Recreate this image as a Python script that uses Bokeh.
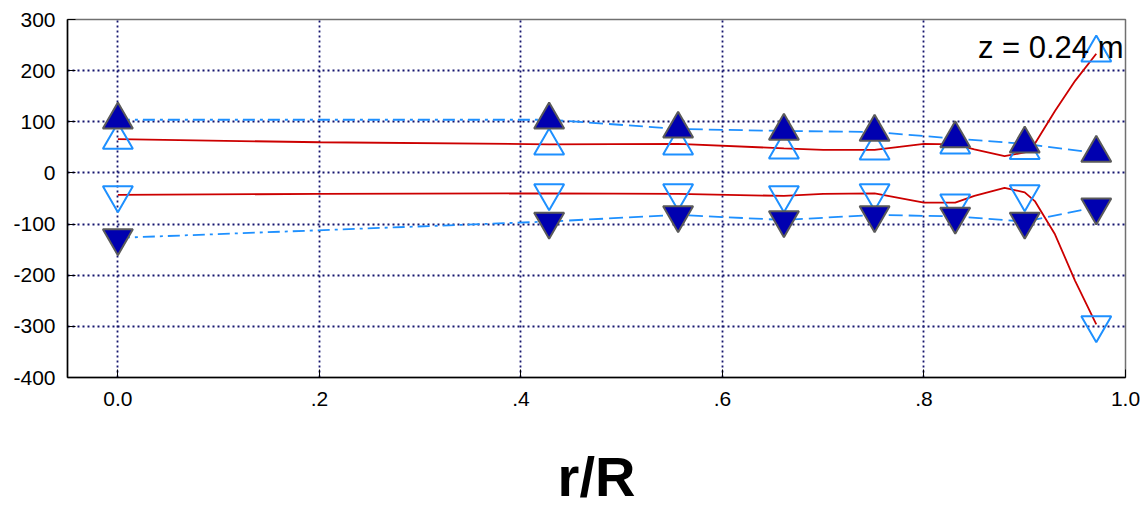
from bokeh.plotting import figure
from bokeh.models import Range1d, FixedTicker, Label
from bokeh.embed import file_html
from bokeh.resources import INLINE

# ---- data ----
r_marker = [0.0, 0.428, 0.556, 0.661, 0.751, 0.831, 0.900, 0.971]
up_filled = [104, 104, 86, 82, 80, 67, 57, 39]
up_open = [64, 53, 53, 45, 43, 55, 44, 235]
down_open = [-43, -39, -39, -43, -39, -59, -41, -297]
down_filled = [-127, -95, -82, -92, -82, -85, -95, -67]

r_curve = [0.0, 0.2, 0.428, 0.556, 0.661, 0.70, 0.751, 0.80, 0.831, 0.85, 0.88, 0.90, 0.91, 0.93, 0.95, 0.971]
up_curve = [66, 60, 56, 57, 48, 45, 45, 57, 56, 46, 33, 40, 57, 121, 180, 233]
down_curve = [-43, -41, -40, -41, -45, -41, -40, -58, -58, -45, -29, -38, -55, -120, -211, -296]

x_ticks = [0.0, 0.2, 0.4, 0.6, 0.8, 1.0]
x_tick_labels = ["0.0", ".2", ".4", ".6", ".8", "1.0"]
y_ticks = [-400, -300, -200, -100, 0, 100, 200, 300]
y_tick_labels = ["-400", "-300", "-200", "-100", "0", "100", "200", "300"]

FONT = "Liberation Sans"

p = figure(width=1144, height=520, output_backend="svg", toolbar_location=None,
           x_range=Range1d(-0.05, 1.0), y_range=Range1d(-400, 300),
           min_border_left=67, min_border_right=19, min_border_top=19, min_border_bottom=143)
p.background_fill_color = "white"
p.outline_line_color = "#707070"
p.outline_line_width = 1.5

# grid
for g in (p.xgrid, p.ygrid):
    g.grid_line_color = "#14146e"
    g.grid_line_dash = "2 3"
    g.grid_line_width = 1.8
p.xgrid.ticker = FixedTicker(ticks=x_ticks)
p.ygrid.ticker = FixedTicker(ticks=y_ticks)

# axes
p.xaxis.ticker = FixedTicker(ticks=x_ticks)
p.xaxis.major_label_overrides = {t: l for t, l in zip(x_ticks, x_tick_labels)}
p.yaxis.ticker = FixedTicker(ticks=y_ticks)
p.yaxis.major_label_overrides = {t: l for t, l in zip(y_ticks, y_tick_labels)}
for ax in (p.xaxis, p.yaxis):
    ax.axis_line_color = "black"
    ax.axis_line_width = 1.5
    ax.major_tick_in = 8
    ax.major_tick_out = 0
    ax.major_tick_line_color = "black"
    ax.minor_tick_line_color = None
    ax.major_label_text_font = FONT
    ax.major_label_text_font_size = "21px"
    ax.major_label_text_color = "black"
    ax.major_label_standoff = 12
p.xaxis.major_label_standoff = 14

p.xaxis.axis_label = "r/R"
p.xaxis.axis_label_text_font = FONT
p.xaxis.axis_label_text_font_style = "bold"
p.xaxis.axis_label_text_font_size = "56px"
p.xaxis.axis_label_text_color = "black"
p.xaxis.axis_label_standoff = 36

# red curves
p.line(r_curve, up_curve, line_color="#cc0000", line_width=1.8)
p.line(r_curve, down_curve, line_color="#cc0000", line_width=1.8)

# blue connecting lines: dash-dot for first span, dashed after
p.line(r_marker[:2], up_filled[:2], line_color="#1e90ff", line_width=1.8, line_dash="12 5 3 5")
p.line(r_marker[1:], up_filled[1:], line_color="#1e90ff", line_width=1.8, line_dash="14 6")
p.line(r_marker[:2], down_filled[:2], line_color="#1e90ff", line_width=1.8, line_dash="12 5 3 5")
p.line(r_marker[1:], down_filled[1:], line_color="#1e90ff", line_width=1.8, line_dash="14 6")

# open markers
p.scatter(r_marker, up_open, marker="triangle", size=30, fill_color=None,
          line_color="#1e90ff", line_width=2)
p.scatter(r_marker, down_open, marker="inverted_triangle", size=30, fill_color=None,
          line_color="#1e90ff", line_width=2)

# filled markers
p.scatter(r_marker, up_filled, marker="triangle", size=30, fill_color="#0000b0",
          line_color="#5a5a5a", line_width=2)
p.scatter(r_marker, down_filled, marker="inverted_triangle", size=30, fill_color="#0000b0",
          line_color="#5a5a5a", line_width=2)

p.add_layout(Label(x=0.998, y=245, text="z = 0.24 m", text_align="right",
                   text_baseline="alphabetic", text_font=FONT,
                   text_font_size="31px", text_color="black"))

open("out.html", "w").write(file_html(p, INLINE))
